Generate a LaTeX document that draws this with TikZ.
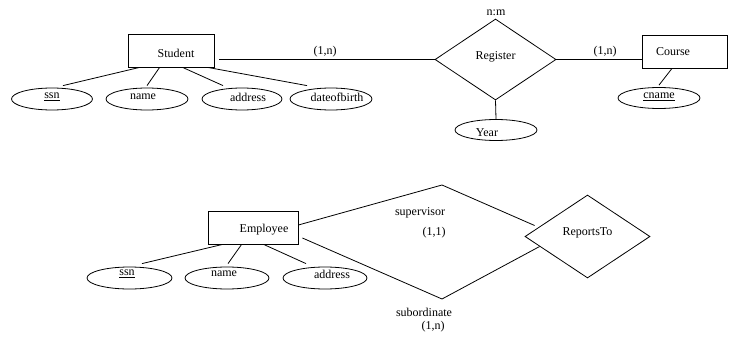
\documentclass[tikz,border=0pt]{standalone}
\usepackage{fontspec}
\setmainfont{Liberation Serif}
\usetikzlibrary{shapes.geometric}
\begin{document}
\begin{tikzpicture}[x=1pt,y=-1pt,
  every node/.style={font=\fontsize{12}{14}\selectfont},
  conn/.style={draw, line width=0.8pt},
  entity/.style={draw, line width=0.8pt, rectangle, inner sep=0pt},
  attr/.style={draw, line width=0.8pt, ellipse, inner sep=0pt},
  rel/.style={draw, line width=0.8pt, diamond, inner sep=0pt},
  lbl/.style={inner sep=0pt}]
\useasboundingbox (0,0) rectangle (733,337);

% ---------- upper diagram ----------
\node[entity, minimum width=86pt, minimum height=33pt,
      label={[xshift=5pt,yshift=-2.5pt]center:Student}] (student) at (171,50.5) {};
\node[rel, minimum width=121pt, minimum height=81pt,
      label={[yshift=2.5pt]center:Register}] (reg) at (495.5,59.5) {};
\node[entity, minimum width=85pt, minimum height=33pt,
      label={[xshift=-11.5pt,yshift=-0.5pt]center:Course}] (course) at (684.5,51.5) {};

\node[attr, minimum width=81pt, minimum height=22pt,
      label={[yshift=2pt]center:\underline{ssn}}] (ssn) at (52,99) {};
\node[attr, minimum width=82pt, minimum height=22pt,
      label={[xshift=-4pt,yshift=2pt]center:name}] (name) at (147,99) {};
\node[attr, minimum width=80pt, minimum height=22pt,
      label={[xshift=6pt,yshift=2pt]center:address}] (addr) at (242,99) {};
\node[attr, minimum width=82pt, minimum height=22pt,
      label={[xshift=6pt,yshift=2pt]center:dateofbirth}] (dob) at (331,99) {};
\node[attr, minimum width=82pt, minimum height=21pt,
      label={[xshift=-9pt,yshift=-3pt]center:Year}] (year) at (496,130) {};
\node[attr, minimum width=82pt, minimum height=21pt,
      label={[yshift=1pt]center:\underline{cname}}] (cname) at (659,98) {};

\node[lbl] (nm) at (496,13) {n:m};
\node[lbl] (card1) at (325,52) {(1,n)};
\node[lbl] (card2) at (605,52) {(1,n)};

\draw[conn] ([xshift=5pt]student.east |- reg.west) -- (reg.west);
\draw[conn] (reg.east) -- (course.west |- reg.east);
\draw[conn] (reg.south) -- (year.north);
\draw[conn] ([xshift=-12.5pt]course.south) -- ([yshift=2pt]cname.north);

\draw[conn] ([xshift=12pt]student.south west) -- ([xshift=11pt,yshift=2pt]ssn.north);
\draw[conn] ([xshift=32pt]student.south west) -- ([yshift=2pt]name.north);
\draw[conn] ([xshift=55pt]student.south west) -- ([xshift=-19pt,yshift=2pt]addr.north);
\draw[conn] ([xshift=80pt]student.south west) -- ([xshift=-24pt,yshift=2pt]dob.north);

% ---------- lower diagram ----------
\node[entity, minimum width=90pt, minimum height=33pt,
      label={[xshift=11pt,yshift=-2.5pt]center:Employee}] (emp) at (253,227.5) {};
\node[rel, minimum width=125pt, minimum height=83pt,
      label={[yshift=3.5pt]center:ReportsTo}] (rep) at (587.5,236.5) {};

\node[attr, minimum width=85pt, minimum height=22pt,
      label={[xshift=-2.5pt,yshift=4pt]center:\underline{ssn}}] (essn) at (129.5,278) {};
\node[attr, minimum width=84pt, minimum height=22pt,
      label={[xshift=-3pt,yshift=4pt]center:name}] (ename) at (227,278) {};
\node[attr, minimum width=84pt, minimum height=22pt,
      label={[xshift=7pt,yshift=4pt]center:address}] (eaddr) at (325,278) {};

\node[lbl] (sup) at (420,213) {supervisor};
\node[lbl] (card3) at (434,233) {(1,1)};
\node[lbl] (sub) at (424,312) {subordinate};
\node[lbl] (card4) at (433,327) {(1,n)};

\coordinate (supbend) at (442,185);
\coordinate (subbend) at (442,299);

\draw[conn] ([yshift=2.5pt]emp.east) -- (supbend) -- ([xshift=10pt,yshift=11pt]rep.west);
\draw[conn] ([xshift=4pt,yshift=-10.5pt]emp.east) -- (subbend) -- ([xshift=15pt,yshift=-10pt]rep.west);

\draw[conn] ([xshift=15pt]emp.south west) -- ([xshift=12.5pt,yshift=3pt]essn.north);
\draw[conn] ([xshift=34pt]emp.south west) -- ([xshift=1pt,yshift=3pt]ename.north);
\draw[conn] ([xshift=56pt]emp.south west) -- ([xshift=-19pt,yshift=3pt]eaddr.north);
\end{tikzpicture}
\end{document}
